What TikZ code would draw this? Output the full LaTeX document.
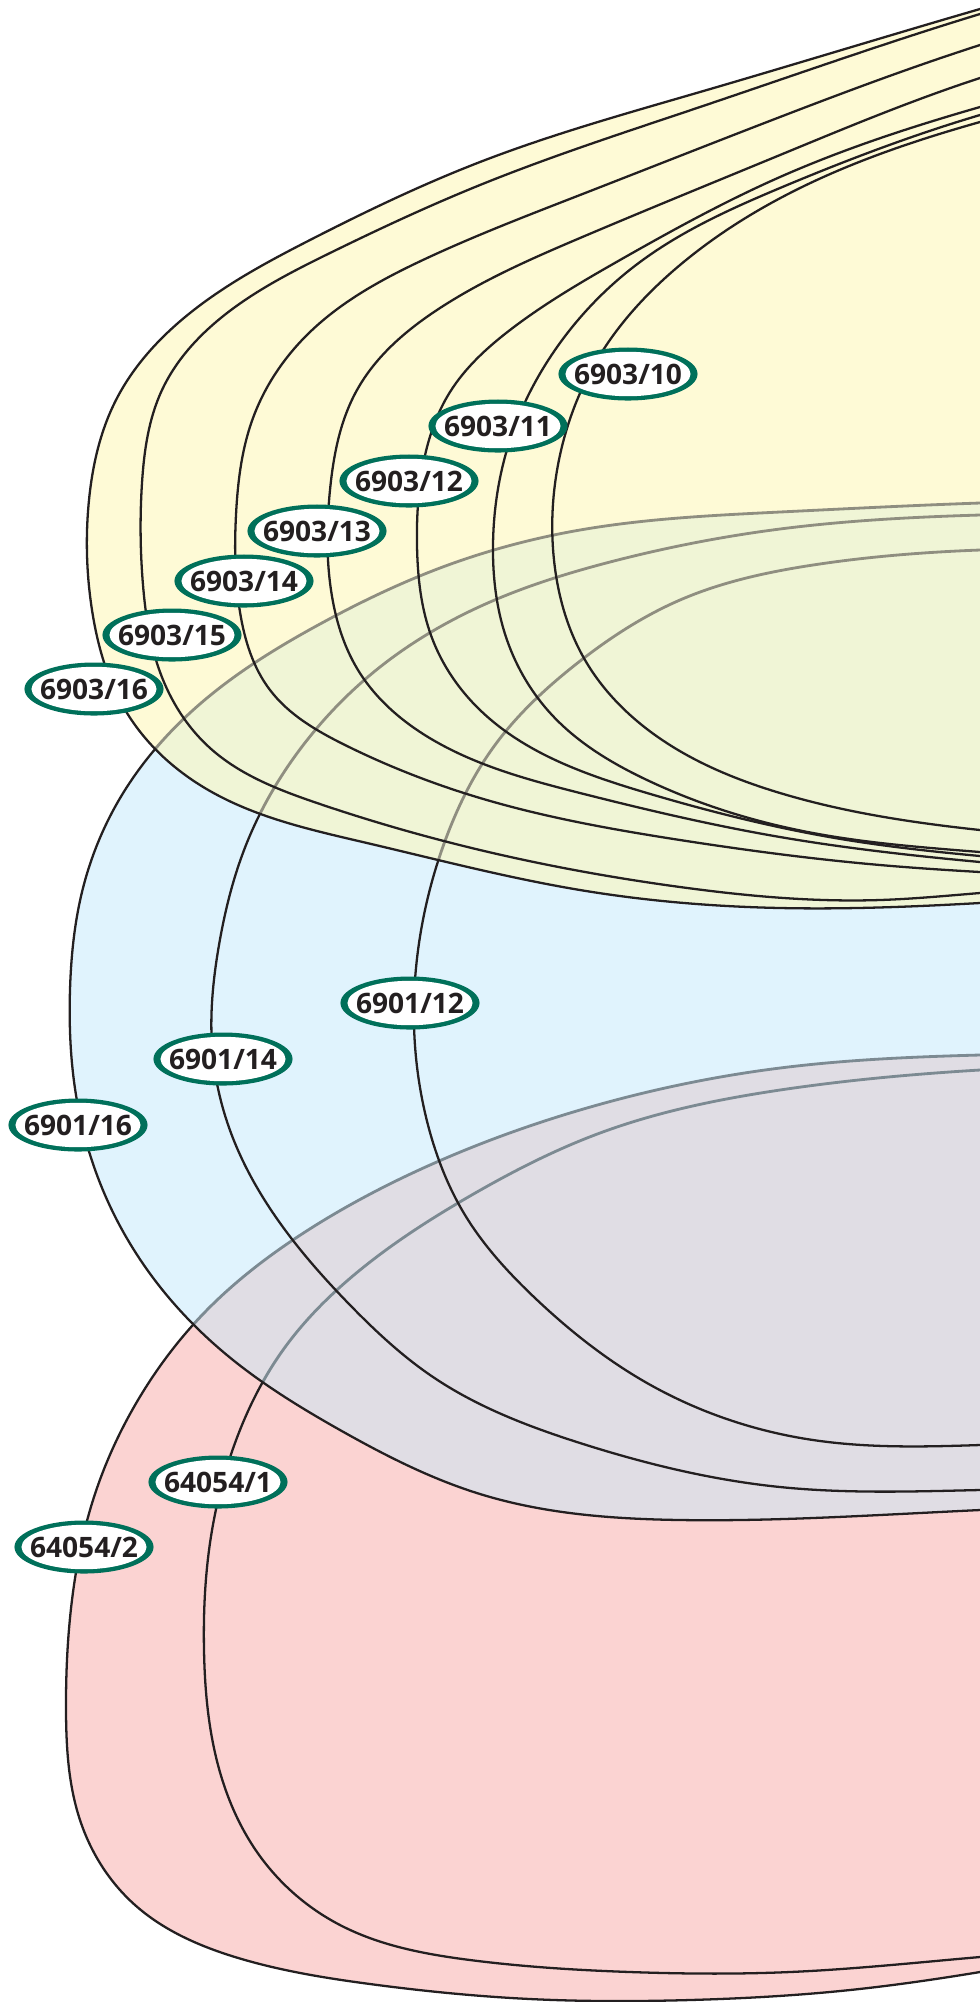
\documentclass[tikz,border=0pt]{standalone}
\usepackage{fontspec}
\setmainfont{Open Sans}
\usetikzlibrary{shapes.geometric,hobby}
\definecolor{yel}{HTML}{FEFAD6}
\definecolor{blu}{HTML}{E0F3FD}
\definecolor{grn}{HTML}{F0F5D6}
\definecolor{pnk}{HTML}{FBD3D2}
\definecolor{lav}{HTML}{E0DDE4}
\definecolor{grayY}{HTML}{8F8E80}
\definecolor{grayB}{HTML}{7C8A92}
\definecolor{ink}{HTML}{231F20}
\definecolor{lgreen}{HTML}{00705A}
\tikzset{
  bline/.style={draw=ink, line width=0.65pt},
  gyline/.style={draw=grayY, line width=0.8pt},
  gbline/.style={draw=grayB, line width=0.8pt},
  lbl/.style={ellipse, fill=lgreen, minimum width=1.39cm, minimum height=0.53cm,
    inner xsep=-4pt, inner ysep=-3pt, text=ink,
    font=\bfseries\fontsize{8}{9}\selectfont,
    path picture={\fill[white] (path picture bounding box.center) ellipse [x radius=0.625cm, y radius=0.222cm];}}
}
\def\YA{(1100,-25) to[curve through={(980,9) (700,92) (480,162) (310,240) (190,313) (116,400) (89,500) (92,610) (127,713) (210,791) (367,843) (580,890) (780,908) (980,903)}] (1100,895)}
\def\YB{(1100,-20) to[curve through={(980,14) (700,107) (480,185) (330,253) (222,317) (162,390) (142,483) (143,585) (160,672) (210,748) (317,803) (480,850) (680,887) (880,900) (980,893)}] (1100,885)}
\def\YC{(1100,10) to[curve through={(980,45) (780,117) (580,195) (425,259) (310,332) (253,418) (236,515) (240,612) (270,690) (345,745) (480,798) (680,840) (880,865) (980,872)}] (1100,878)}
\def\YD{(1100,45) to[curve through={(980,78) (780,155) (580,238) (440,308) (357,390) (330,490) (331,590) (358,670) (433,740) (580,793) (780,837) (980,862)}] (1100,872)}
\def\YE{(1100,75) to[curve through={(980,107) (780,177) (620,260) (510,330) (450,392) (424,460) (417,545) (432,638) (480,710) (647,793) (847,840) (980,856)}] (1100,866)}
\def\YF{(1100,85) to[curve through={(980,115) (780,188) (640,262) (555,350) (510,440) (493,545) (507,640) (552,715) (647,780) (813,833) (980,852)}] (1100,862)}
\def\YG{(1100,92) to[curve through={(980,122) (800,188) (680,265) (600,355) (560,455) (554,560) (585,660) (655,735) (780,793) (980,830)}] (1100,840)}
\def\BA{(1100,500) to[curve through={(980,503) (780,512) (580,530) (440,568) (320,624) (207,698) (125,790) (83,888) (70,990) (76,1095) (105,1195) (157,1283) (233,1360) (340,1430) (480,1494) (680,1520) (880,1515) (980,1510)}] (1100,1505)}
\def\BB{(1100,513) to[curve through={(980,515) (780,529) (610,562) (490,602) (380,667) (298,752) (246,845) (219,945) (212,1045) (231,1133) (280,1223) (350,1305) (433,1377) (580,1443) (780,1487) (980,1490)}] (1100,1488)}
\def\BC{(1100,549) to[curve through={(980,550) (813,565) (680,600) (575,665) (495,745) (448,833) (422,925) (414,1025) (428,1125) (465,1215) (535,1298) (647,1383) (813,1440) (980,1445)}] (1100,1440)}
\def\PA{(1100,1053) to[curve through={(980,1055) (780,1068) (580,1110) (430,1165) (305,1232) (205,1312) (138,1400) (94,1497) (72,1600) (66,1710) (80,1820) (135,1905) (235,1957) (370,1984) (530,1999) (690,2000) (850,1990) (980,1972)}] (1100,1950)}
\def\PB{(1100,1065) to[curve through={(980,1070) (780,1090) (600,1133) (470,1196) (360,1270) (283,1350) (235,1443) (210,1543) (204,1650) (216,1757) (257,1852) (340,1925) (470,1960) (630,1972) (790,1972) (980,1957)}] (1100,1948)}
\begin{document}
\begin{tikzpicture}[x=0.01cm,y=-0.01cm]
\useasboundingbox (0,0) rectangle (980,2002);
\clip (0,0) rectangle (980,2002);
\fill[white] (0,0) rectangle (980,2002);
% pink layer
\fill[pnk] \PA -- cycle;
\draw[bline] \PA;
\draw[bline] \PB;
% blue layer
\fill[blu] \BA -- cycle;
\begin{scope}
  \clip \BA -- cycle;
  \fill[lav] \PA -- cycle;
  \draw[gbline] \PA;
  \draw[gbline] \PB;
\end{scope}
\draw[bline] \BA;
\draw[bline] \BB;
\draw[bline] \BC;
% yellow layer
\fill[yel] \YA -- cycle;
\begin{scope}
  \clip \YA -- cycle;
  \fill[grn] \BA -- cycle;
  \draw[gyline] \BA;
  \draw[gyline] \BB;
  \draw[gyline] \BC;
\end{scope}
\draw[bline] \YA;
\draw[bline] \YB;
\draw[bline] \YC;
\draw[bline] \YD;
\draw[bline] \YE;
\draw[bline] \YF;
\draw[bline] \YG;
% labels
\node[lbl] (y10) at (628,374) {6903/10};
\node[lbl] (y11) at (498,426) {6903/11};
\node[lbl] (y12) at (409,481) {6903/12};
\node[lbl] (y13) at (317,531) {6903/13};
\node[lbl] (y14) at (244,581) {6903/14};
\node[lbl] (y15) at (172,635) {6903/15};
\node[lbl] (y16) at (94,689) {6903/16};
\node[lbl] (b12) at (410,1003) {6901/12};
\node[lbl] (b14) at (223,1059) {6901/14};
\node[lbl] (b16) at (78,1125) {6901/16};
\node[lbl] (p1) at (218,1482) {64054/1};
\node[lbl] (p2) at (84,1547) {64054/2};
\end{tikzpicture}
\end{document}
